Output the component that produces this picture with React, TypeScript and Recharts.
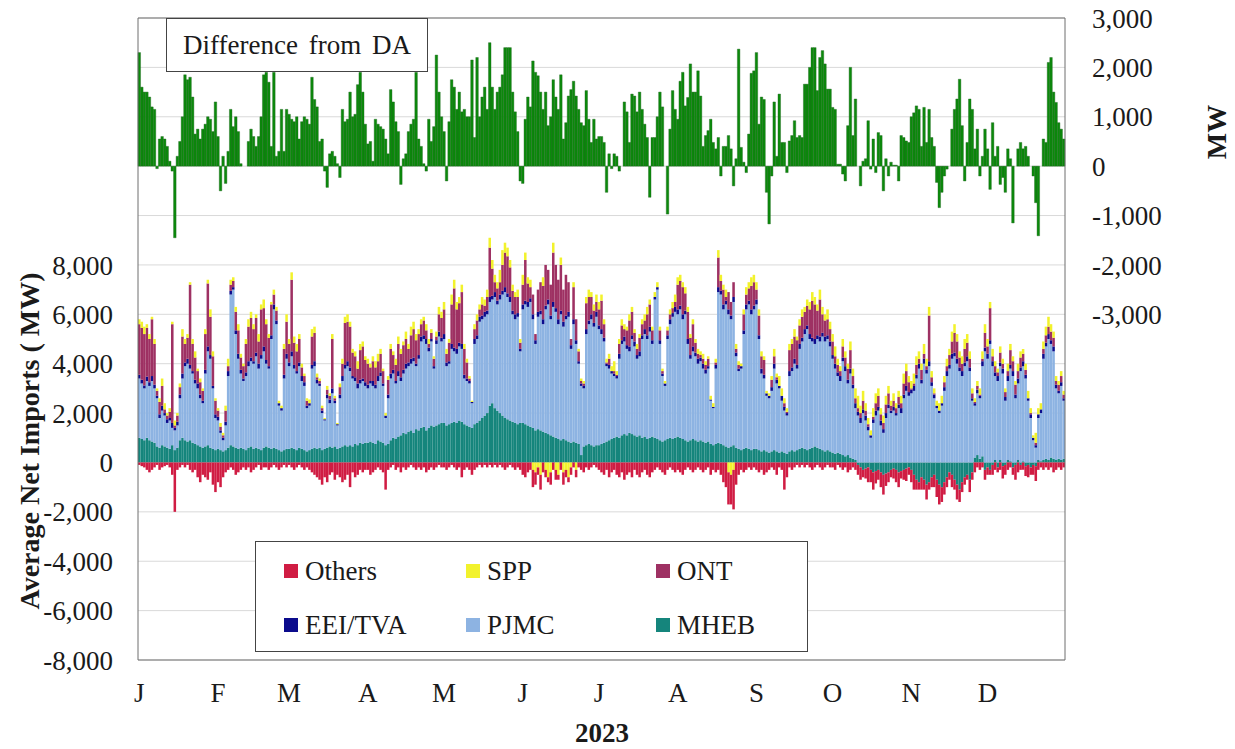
import React from 'react';
import { ComposedChart, Bar, XAxis, YAxis, CartesianGrid, ReferenceLine } from 'recharts';

// ---- Daily values for 2023 (day 0 = Jan 1), MW ----
const mheb = [
  1000,950,900,1000,900,850,800,650,600,700,650,600,550,700,500,600,900,1000,900,850,900,800,750,700,650,600,650,700,600,550,500,
  550,500,450,500,600,700,650,600,550,600,550,500,600,650,550,600,550,500,600,650,600,550,600,550,500,450,500,550,
  550,600,550,500,600,550,500,450,500,550,600,550,600,500,550,600,650,600,650,550,600,650,700,650,700,650,750,700,800,750,800,
  800,850,800,750,900,850,800,700,750,900,1000,950,1050,1100,1200,1150,1250,1300,1200,1350,1300,1400,1450,1300,1400,1500,1450,1500,1550,1600,
  1600,1500,1550,1600,1650,1600,1700,1650,1550,1500,1450,1400,1550,1600,1700,1800,1900,2000,2300,2400,2200,2100,2000,1900,1800,1750,1700,1650,1600,1550,1600,
  1600,1550,1500,1450,1400,1300,1350,1300,1250,1200,1150,1100,1050,1000,950,900,950,900,850,800,850,800,750,300,650,700,750,700,650,700,
  700,750,800,850,900,950,1000,1050,1000,1100,1150,1100,1200,1150,1100,1050,1100,1000,1050,950,1000,1050,1000,950,900,850,900,950,1000,950,1000,
  1050,1000,950,900,850,900,950,900,850,900,850,800,850,750,700,750,800,750,700,650,600,650,700,600,550,500,550,600,550,500,550,
  550,500,450,500,450,400,450,500,450,400,450,400,350,450,500,450,500,550,600,550,500,550,600,650,600,550,500,450,500,450,
  400,350,400,350,300,250,300,200,150,100,-100,-200,-300,-250,-200,-300,-400,-350,-300,-400,-500,-450,-400,-300,-250,-300,-400,-350,-300,-250,-200,
  -300,-500,-700,-800,-600,-700,-900,-800,-600,-500,-700,-900,-1000,-800,-600,-400,-500,-700,-900,-1100,-800,-600,-500,-700,-400,200,300,150,250,-300,
  -200,-300,-100,100,-200,100,-150,-100,100,50,-200,-100,100,-100,50,-150,-100,-200,-100,-150,100,50,100,150,100,200,150,100,150,100,150,
];
const pjmc = [
  2400,2250,2100,2300,2200,2450,2200,1950,1200,1400,1250,1000,1150,700,800,900,1700,2400,3000,3150,2900,2800,2450,2300,1950,1800,2950,3800,3600,2450,1300,
  1150,700,450,1000,2900,6100,6350,4600,3650,3000,2750,3000,3300,3450,3450,3700,3250,3700,3900,3350,3200,4450,5600,5050,1800,1650,2900,3650,
  3350,3700,3250,3100,3300,2750,2600,1750,1800,3250,3300,2650,2500,1500,1150,2000,1750,2200,1750,950,2000,2650,3100,3250,3000,2750,2550,2300,2400,2550,2300,
  2200,2350,2300,2250,2400,2650,2300,1100,1850,2500,2600,2250,2450,2200,2400,2650,2650,2700,2900,2550,2900,3500,3550,3500,3100,3400,2350,3300,3550,3300,
  3400,2400,2450,3000,2850,2800,3000,2950,1850,1800,1750,1000,3250,3400,4000,4000,4000,4000,4200,4200,4500,4300,4600,4900,5100,4950,4800,4350,4200,4350,2900,
  4600,4850,4800,5050,4400,3500,4550,4700,4350,5000,5250,4700,5250,5100,4650,5100,4550,4900,5050,3800,4750,4000,3250,2800,2350,4500,4850,5100,4850,5200,
  4700,4450,4100,3050,2900,2650,2500,2350,3200,3700,3750,3500,3300,3850,3600,3150,3200,4000,4150,4050,4300,3750,5600,6050,3900,2650,2200,4050,4600,4950,5100,
  4950,5200,4850,5100,3950,3300,3550,3400,3150,3200,2950,2800,2950,1750,1500,3050,6100,6050,5500,5750,5400,5150,5800,3700,3150,3300,4650,5600,5850,5500,5650,
  5850,4500,3150,2900,2250,2200,2450,3300,2750,2600,2050,1700,1550,3050,3200,3550,3300,4050,4300,4650,4900,4450,4300,4150,4400,4350,4600,4450,4500,4250,
  3800,3450,3100,2950,3800,3450,2900,3400,2850,2100,1900,1600,2000,1700,1300,1000,1600,1900,2100,1500,1200,1800,2200,2000,2100,1900,2200,2000,2600,2900,2700,
  2800,2900,3400,3800,3200,4000,3600,3900,3100,2600,2200,2000,2300,2900,3500,3800,4200,4300,4000,3700,3500,3900,4100,3700,2500,2100,2500,2450,3650,4500,
  4200,4800,3900,3400,3300,3800,3600,2500,3200,3750,3500,2600,3100,3700,3850,3400,2500,1800,900,600,1700,1950,4100,4550,4900,4600,4350,2900,2650,3000,2350,
];
const eeiTva = [
  150,150,120,180,150,200,150,100,150,200,100,150,100,200,100,150,150,200,150,200,150,100,150,200,150,100,150,200,150,100,150,
  150,100,100,150,200,150,100,150,200,150,100,150,200,150,100,150,200,150,200,150,100,150,200,150,100,100,150,200,
  150,200,150,100,150,200,150,100,100,150,200,150,100,100,50,150,150,200,100,50,150,200,150,200,150,100,150,200,150,100,150,
  150,100,200,150,200,150,100,100,150,200,150,100,200,150,150,200,150,200,150,100,150,200,150,200,150,100,100,150,200,150,
  200,150,100,200,150,200,150,200,150,100,100,50,200,150,200,150,200,150,200,150,200,150,200,150,200,150,200,150,200,150,100,
  200,150,200,150,200,150,200,150,200,150,200,150,200,150,200,150,200,150,200,150,200,150,100,100,100,200,150,200,150,200,
  150,200,150,100,150,100,100,100,200,150,200,150,200,150,200,150,200,150,200,150,200,150,100,100,150,100,100,150,200,150,200,
  200,150,200,150,200,150,200,150,200,150,200,150,100,50,50,150,200,150,200,150,200,150,200,150,100,100,150,200,150,200,150,
  200,150,200,150,100,100,150,200,150,100,200,150,100,200,150,200,150,200,150,200,150,200,150,200,150,200,150,200,150,200,
  150,200,150,200,150,200,150,200,150,200,150,200,150,200,150,100,150,200,150,200,150,200,150,100,150,100,150,200,150,200,150,
  150,200,150,200,150,200,150,200,150,150,100,100,100,150,200,150,200,150,200,150,200,150,200,150,100,100,150,100,200,150,
  200,150,200,150,200,150,200,150,200,150,200,150,200,150,200,150,100,150,100,100,150,150,200,150,200,150,200,150,100,150,100,
];
const ont = [
  2050,2100,2080,1970,1750,2300,1650,200,500,800,150,150,250,4000,100,250,300,1500,750,850,3250,1100,900,500,500,400,1450,2550,1550,1200,550,
  250,150,100,450,200,250,250,750,950,500,500,1150,1400,1600,1300,1400,900,1850,1550,1450,1150,1250,400,400,0,0,1050,1300,
  750,2900,900,800,950,350,250,200,0,1150,1150,100,100,100,0,200,150,2000,100,0,300,500,1700,1600,1650,950,850,600,1200,1300,900,
  850,550,800,700,600,750,500,0,600,1000,600,650,1100,950,1000,1000,550,950,1150,950,850,500,600,350,150,250,300,150,700,800,
  1000,350,750,1600,2400,1600,1600,2100,1050,650,100,0,400,600,300,450,250,550,2000,1100,400,500,500,1050,1400,1500,1200,800,700,650,250,
  800,1650,750,450,800,250,900,1150,1350,1650,1200,1250,2000,1750,1600,1850,1300,1650,1200,250,1300,850,400,100,100,1050,950,700,500,400,
  650,1150,550,50,250,0,100,50,400,600,300,600,1050,950,350,250,550,450,350,850,900,400,0,0,400,100,0,200,200,200,200,
  1000,1000,1100,700,1100,700,900,400,200,100,200,200,300,0,0,100,1200,400,600,150,700,550,600,150,150,0,650,400,500,950,950,
  400,800,500,600,0,0,300,300,100,0,0,150,50,850,950,900,1000,750,850,700,800,1000,1500,1400,1000,1500,750,650,650,500,
  550,300,300,200,450,350,450,750,350,200,150,200,350,200,100,0,100,300,450,250,250,350,450,200,250,200,300,200,450,600,400,
  50,100,400,200,400,200,150,1850,200,50,0,0,0,200,200,400,500,800,700,400,300,550,550,350,200,50,150,50,100,600,
  300,1300,200,250,150,400,200,200,200,600,400,400,300,400,300,200,0,50,0,100,0,0,200,300,300,350,350,150,250,250,150,
];
const spp = [
  200,250,300,150,200,100,200,100,150,300,250,100,150,100,200,100,150,300,200,150,100,200,250,100,150,100,200,150,300,200,100,
  100,150,100,200,300,200,150,200,250,150,100,200,300,250,200,150,300,200,350,200,150,100,200,150,100,100,200,300,
  200,300,250,300,200,150,100,100,150,300,250,150,100,100,50,150,100,200,100,50,150,200,250,300,200,150,200,300,250,200,150,
  200,150,200,250,300,200,100,100,150,200,150,250,300,200,150,300,200,350,300,250,200,200,150,250,200,150,100,200,300,250,
  300,200,150,400,350,300,250,300,200,150,100,50,200,250,200,300,250,300,400,350,300,250,500,600,400,350,300,250,200,300,150,
  400,300,250,300,-300,-400,-200,-500,350,-300,-600,-400,400,-300,-500,300,-400,-300,-600,-200,200,-300,100,100,100,250,300,200,250,300,
  300,250,200,150,200,200,400,150,200,250,200,150,250,200,150,200,150,200,250,300,200,150,200,200,150,100,100,150,200,250,300,
  300,250,200,250,200,150,200,150,200,150,200,150,100,150,150,150,300,250,200,300,-400,-500,-300,200,150,100,200,300,250,350,300,
  300,250,200,150,100,100,150,300,150,400,300,200,150,250,200,300,150,250,300,200,250,300,350,300,250,400,300,250,400,300,
  300,400,250,200,300,250,200,350,300,400,500,300,400,300,250,200,350,400,300,250,300,350,300,200,300,200,250,300,400,300,250,
  300,400,350,300,250,400,300,350,250,200,200,300,300,250,300,250,400,350,300,250,300,400,350,300,200,150,200,250,300,350,
  300,250,300,200,150,250,200,150,300,250,200,150,300,250,200,250,300,200,100,400,250,250,300,350,400,300,250,200,150,200,150,
];
const others = [
  -100,-150,-200,-300,-400,-300,-200,-100,-300,-200,-150,-100,-200,-500,-2000,-300,-200,-100,-200,-100,-300,-400,-300,-600,-800,-500,-600,-700,-400,-900,-1200,
  -800,-1000,-600,-400,-300,-200,-300,-500,-400,-300,-200,-300,-200,-400,-300,-200,-100,-300,-200,-200,-300,-200,-100,-200,-300,-200,-100,-200,
  -100,-200,-300,-200,-100,-200,-300,-200,-300,-400,-500,-600,-700,-900,-600,-800,-500,-400,-700,-500,-600,-800,-700,-500,-1000,-400,-600,-500,-300,-400,-300,
  -300,-500,-400,-300,-200,-300,-400,-1100,-300,-200,-100,-300,-200,-400,-200,-300,-200,-100,-200,-300,-200,-300,-200,-400,-300,-200,-300,-200,-100,-200,
  -200,-300,-200,-100,-200,-300,-200,-600,-300,-200,-300,-500,-300,-200,-100,-200,-100,-200,-100,-200,-100,-200,-100,-200,-300,-200,-100,-200,-300,-200,-300,
  -500,-600,-400,-300,-700,-500,-300,-600,-400,-300,-200,-500,-300,-400,-200,-300,-500,-300,-200,-300,-200,-300,-200,-300,-400,-200,-300,-200,-100,-200,
  -300,-400,-500,-300,-600,-400,-300,-500,-600,-400,-700,-500,-400,-600,-300,-500,-600,-400,-300,-500,-600,-400,-300,-200,-300,-400,-500,-300,-200,-300,-400,
  -300,-400,-500,-300,-200,-300,-400,-300,-200,-300,-400,-300,-200,-500,-300,-400,-300,-500,-800,-1000,-1300,-1200,-1600,-900,-500,-300,-400,-300,-200,-300,-200,
  -300,-400,-300,-500,-400,-300,-200,-300,-500,-200,-300,-1100,-600,-200,-300,-200,-100,-200,-100,-200,-100,-200,-300,-200,-100,-200,-300,-200,-100,-200,
  -200,-300,-100,-200,-300,-200,-400,-300,-200,-300,-400,-500,-300,-400,-600,-500,-700,-500,-400,-600,-800,-500,-400,-300,-400,-500,-600,-300,-400,-500,-300,
  -500,-600,-400,-300,-500,-400,-600,-300,-400,-500,-700,-800,-600,-500,-400,-300,-500,-400,-600,-500,-400,-300,-200,-500,-300,-400,-200,-300,-200,-400,
  -300,-200,-400,-300,-200,-300,-500,-400,-300,-200,-300,-600,-400,-200,-300,-400,-500,-300,-400,-600,-300,-200,-300,-200,-300,-200,-400,-300,-200,-300,-200,
];
// Difference from DA (right axis)
const diffFromDA = [
  2300,1600,1500,1500,1400,1200,1150,-50,550,600,550,400,100,-100,-1450,200,500,1000,1850,1750,1800,1400,650,750,550,750,850,1000,950,700,1300,
  600,-500,200,-350,300,1150,800,1000,700,50,0,0,500,750,600,400,600,1000,1850,1900,1700,400,1900,200,300,1150,300,1150,
  1050,950,900,1000,550,900,1000,950,850,1800,1350,1200,500,550,-100,-430,250,300,200,50,-230,1150,900,950,1500,1000,1050,1650,1900,1500,850,
  450,500,100,950,850,800,750,550,250,1550,1300,900,700,-370,150,250,700,850,950,1900,550,400,50,-100,950,500,800,2250,1500,1000,
  700,-300,900,1750,1600,1150,1500,1100,1150,1000,1000,2150,580,2200,1000,1400,1600,1150,2500,1600,1150,1500,1600,1850,2400,2400,2400,1500,1100,700,-300,
  -350,950,1400,1200,2130,1900,1830,1500,1150,1500,820,1000,1750,1400,1150,1850,550,880,1420,1550,1720,1420,1150,880,820,1530,950,480,950,550,
  600,600,480,-530,250,-50,250,200,-100,0,1300,1100,480,1460,1420,1100,1500,1150,850,580,-630,580,580,1000,1500,1200,0,-970,750,1530,1150,
  950,1720,1900,1220,1390,2070,1500,1500,1930,1420,400,620,720,950,480,350,580,-200,400,400,620,350,-400,150,2370,380,80,-130,650,1880,1930,
  2300,850,1400,1350,-530,-1170,-200,1300,200,1460,480,480,-130,510,620,920,580,620,580,1660,1660,2000,2400,2400,1530,2200,2340,2070,1560,1560,
  1190,1150,40,40,-160,-300,820,2000,620,1360,0,-400,100,150,920,-60,550,-130,680,620,-500,150,-200,80,20,20,-300,620,580,510,480,
  1000,1080,1220,1150,400,1190,480,1150,580,400,-330,-840,-530,-200,-60,0,750,1150,1360,1760,820,-300,480,1360,1150,350,750,-200,200,750,
  350,-470,880,200,400,-370,-230,-530,350,150,-1150,0,350,480,350,400,200,0,-200,-740,-1410,0,550,480,2100,2200,1500,1290,880,750,550,
];

const monthStarts = [0, 31, 59, 90, 120, 151, 181, 212, 243, 273, 304, 334];
const monthLabels = ['J', 'F', 'M', 'A', 'M', 'J', 'J', 'A', 'S', 'O', 'N', 'D'];
const leftTicks = [-8000, -6000, -4000, -2000, 0, 2000, 4000, 6000, 8000, 10000, 12000, 14000, 16000, 18000];
const rightTicks = [-10000, -9000, -8000, -7000, -6000, -5000, -4000, -3000, -2000, -1000, 0, 1000, 2000, 3000];

const data = diffFromDA.map((v, i) => ({
  day: i,
  MHEB: mheb[i],
  PJMC: pjmc[i],
  EEI: eeiTva[i],
  ONT: ont[i],
  SPP: spp[i],
  Others: others[i],
  diff: v,
}));

const SERIF = '"Liberation Serif", "Times New Roman", "DejaVu Serif", serif';
const TXT = '#1a1a1a';
const FRAME = '#6e6e6e';
const C = {
  Others: '#d01c43',
  SPP: '#f2f22c',
  ONT: '#9e3163',
  EEI: '#0b0b8c',
  PJMC: '#8db3e2',
  MHEB: '#15857c',
  diff: '#0b8a0b',
};

const W = 1235;
const H = 749;
const PLOT_L = 138;
const PLOT_R = 1065;
const BAR = (PLOT_R - PLOT_L) / 365 - 0.005;

const fmt = (v: number) => v.toLocaleString('en-US');

const legendItems = [
  { name: 'Others', color: C.Others, left: 28, top: 29 },
  { name: 'SPP', color: C.SPP, left: 210, top: 29 },
  { name: 'ONT', color: C.ONT, left: 400, top: 29 },
  { name: 'EEI/TVA', color: C.EEI, left: 28, top: 83 },
  { name: 'PJMC', color: C.PJMC, left: 210, top: 83 },
  { name: 'MHEB', color: C.MHEB, left: 400, top: 83 },
];

export default function App() {
  const tickStyle = { fontSize: 27, fill: TXT, fontFamily: SERIF };
  return (
    <div style={{ position: 'absolute', left: 0, top: 0, width: W, height: H, background: '#fff', fontFamily: SERIF, color: TXT }}>
      <ComposedChart
        width={W}
        height={H}
        data={data}
        margin={{ top: 18, right: 0, bottom: 0, left: 0 }}
        stackOffset="sign"
        barCategoryGap={0}
        barGap={0}
        style={{ fontFamily: SERIF }}
      >
        <CartesianGrid xAxisId="x" yAxisId="left" vertical={false} stroke="#d9d9d9" />
        <XAxis xAxisId="g" dataKey="day" type="category" orientation="top" height={0} hide />
        <XAxis
          xAxisId="x"
          dataKey="day"
          type="category"
          ticks={monthStarts}
          interval={0}
          tickFormatter={(v: number) => monthLabels[monthStarts.indexOf(v)] ?? ''}
          height={89}
          tickLine={false}
          tickMargin={17}
          axisLine={{ stroke: FRAME }}
          tick={tickStyle}
        />
        <YAxis
          yAxisId="left"
          orientation="left"
          width={138}
          type="number"
          domain={[-8000, 18000]}
          ticks={leftTicks}
          interval={0}
          tickFormatter={(v: number) => (v > 8000 ? '' : fmt(v))}
          tickLine={false}
          tickMargin={19}
          axisLine={{ stroke: FRAME }}
          tick={tickStyle}
        />
        <YAxis
          yAxisId="right"
          orientation="right"
          width={170}
          type="number"
          domain={[-10000, 3000]}
          ticks={rightTicks}
          interval={0}
          tickFormatter={(v: number) => (v < -3000 ? '' : fmt(v))}
          tickLine={false}
          tickMargin={21}
          axisLine={{ stroke: FRAME }}
          tick={{ ...tickStyle, textAnchor: 'start' }}
        />
        <ReferenceLine xAxisId="x" yAxisId="left" y={18000} stroke={FRAME} />
        <Bar xAxisId="x" yAxisId="left" stackId="imp" dataKey="MHEB" fill={C.MHEB} barSize={BAR} isAnimationActive={false} />
        <Bar xAxisId="x" yAxisId="left" stackId="imp" dataKey="PJMC" fill={C.PJMC} barSize={BAR} isAnimationActive={false} />
        <Bar xAxisId="x" yAxisId="left" stackId="imp" dataKey="EEI" fill={C.EEI} barSize={BAR} isAnimationActive={false} />
        <Bar xAxisId="x" yAxisId="left" stackId="imp" dataKey="ONT" fill={C.ONT} barSize={BAR} isAnimationActive={false} />
        <Bar xAxisId="x" yAxisId="left" stackId="imp" dataKey="SPP" fill={C.SPP} barSize={BAR} isAnimationActive={false} />
        <Bar xAxisId="x" yAxisId="left" stackId="imp" dataKey="Others" fill={C.Others} barSize={BAR} isAnimationActive={false} />
        <Bar
          xAxisId="g"
          yAxisId="right"
          dataKey="diff"
          fill={C.diff}
          stroke="#1f661f"
          strokeWidth={0.4}
          barSize={BAR}
          isAnimationActive={false}
        />
      </ComposedChart>

      {/* Title box */}
      <div
        style={{
          position: 'absolute', left: 166, top: 18, width: 262, height: 54, boxSizing: 'border-box',
          border: '1px solid #444', background: '#fff', display: 'flex', alignItems: 'center', justifyContent: 'center',
          fontSize: 27, whiteSpace: 'nowrap', wordSpacing: 4,
        }}
      >
        Difference from DA
      </div>

      {/* Legend */}
      <div
        style={{
          position: 'absolute', left: 255, top: 541, width: 553, height: 111, boxSizing: 'border-box',
          border: '1px solid #444', background: '#fff',
        }}
      >
        {legendItems.map((it) => (
          <div
            key={it.name}
            style={{ position: 'absolute', left: it.left, top: it.top - 16, height: 32, display: 'flex', alignItems: 'center', whiteSpace: 'nowrap' }}
          >
            <span style={{ display: 'inline-block', width: 14, height: 14, background: it.color, marginRight: 7 }} />
            <span style={{ fontSize: 27, lineHeight: '32px' }}>{it.name}</span>
          </div>
        ))}
      </div>

      {/* Axis titles */}
      <div
        style={{
          position: 'absolute', left: 30, top: 441, transform: 'translate(-50%, -50%) rotate(-90deg)',
          fontSize: 28, lineHeight: '30px', fontWeight: 'bold', whiteSpace: 'nowrap',
        }}
      >
        Average Net Imports ( MW)
      </div>
      <div
        style={{
          position: 'absolute', left: 1217, top: 132, transform: 'translate(-50%, -50%) rotate(-90deg)',
          fontSize: 28, lineHeight: '30px', fontWeight: 'bold', whiteSpace: 'nowrap',
        }}
      >
        MW
      </div>
      <div
        style={{
          position: 'absolute', left: 602, top: 733, transform: 'translate(-50%, -50%)',
          fontSize: 27, lineHeight: '27px', fontWeight: 'bold', whiteSpace: 'nowrap',
        }}
      >
        2023
      </div>
    </div>
  );
}
